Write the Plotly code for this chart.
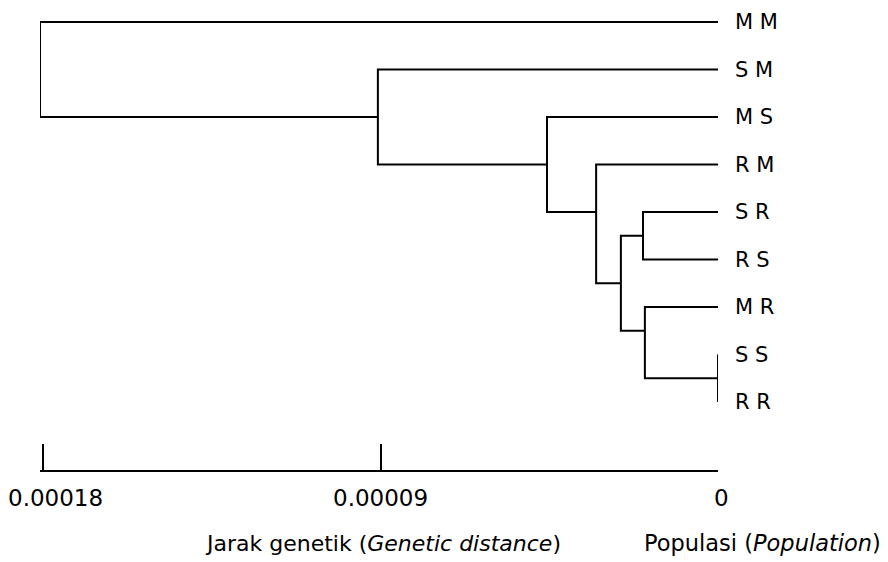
import plotly.graph_objects as go

# ---- data ----
leaves = ["M M", "S M", "M S", "R M", "S R", "R S", "M R", "S S", "R R"]
# merges: (child_a, child_b, height); ids 0..8 are leaves, 9.. are clusters
merge_a = [7, 4, 6, 10, 3, 2, 1, 0]
merge_b = [8, 5, 9, 11, 12, 13, 14, 15]
merge_height = [0.0, 0.0000200, 0.0000195, 0.0000259, 0.0000325, 0.0000456, 0.0000907, 0.0001808]
merge_row = [7.5, 4.5, 6.5, 5.5, 4.0, 3.0, 2.0, 1.0]
tick_vals = [0.00018, 0.00009, 0.0]
tick_text = ["0.00018", "0.00009", "0"]
x_title = "Jarak genetik (<i>Genetic distance</i>)"
leaf_title = "Populasi (<i>Population</i>)"

# ---- build dendrogram links ----
n = len(leaves)
height = {i: 0.0 for i in range(n)}
row = {i: float(i) for i in range(n)}
xs, ys = [], []
for k, (a, b, h, r) in enumerate(zip(merge_a, merge_b, merge_height, merge_row)):
    cid = n + k
    xs += [height[a], h, h, height[b], None]
    ys += [row[a], row[a], row[b], row[b], None]
    height[cid] = h
    row[cid] = r

fig = go.Figure()
fig.add_trace(go.Scatter(x=xs, y=ys, mode="lines",
                         line=dict(color="black", width=2),
                         cliponaxis=False, hoverinfo="skip", showlegend=False))

for i, name in enumerate(leaves):
    fig.add_annotation(x=0, y=i, xref="x", yref="y", text=name, showarrow=False,
                       xanchor="left", yanchor="middle", xshift=15,
                       font=dict(family="DejaVu Sans", size=21, color="black"))

# scale labels (first one sits slightly right of its tick, as in the source)
label_font = dict(family="DejaVu Sans", size=23, color="black")
label_shift = [12, 0, 3]
for v, t, s in zip(tick_vals, tick_text, label_shift):
    fig.add_annotation(x=v, y=0, xref="x", yref="paper", text=t, showarrow=False,
                       xanchor="center", yanchor="middle", xshift=s, yshift=-28,
                       font=label_font)

fig.add_annotation(x=0.7714, y=0, xref="paper", yref="paper", text=x_title,
                   showarrow=False, xanchor="right", yanchor="middle", yshift=-73,
                   font=dict(family="DejaVu Sans", size=22, color="black"))
fig.add_annotation(x=0.8879, y=0, xref="paper", yref="paper", text=leaf_title,
                   showarrow=False, xanchor="left", yanchor="middle", yshift=-73,
                   font=dict(family="DejaVu Sans", size=22.5, color="black"))

fig.update_xaxes(range=[0.0001808, 0], tickvals=tick_vals, showticklabels=False,
                 ticks="inside", ticklen=26, tickwidth=2, tickcolor="black",
                 showline=True, linewidth=2, linecolor="black",
                 showgrid=False, zeroline=False, automargin=False)
fig.update_yaxes(range=[9.4316, -0.2947], visible=False, showgrid=False,
                 zeroline=False, automargin=False)

fig.update_layout(width=880, height=554, margin=dict(l=32, r=170, t=0, b=92, autoexpand=False),
                  plot_bgcolor="white", paper_bgcolor="white", showlegend=False)

fig.write_html("out.html")
